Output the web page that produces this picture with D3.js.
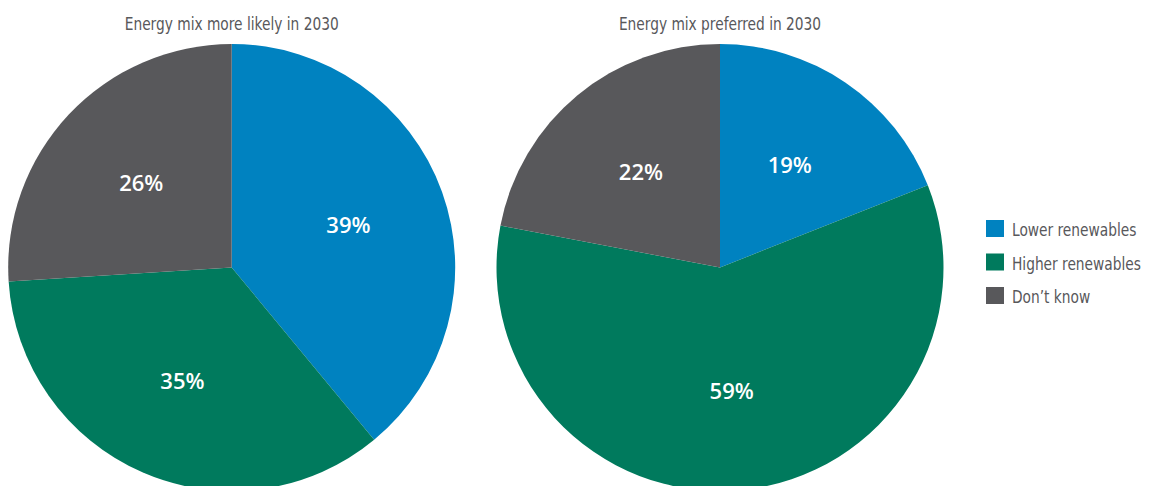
<!DOCTYPE html>
<html><head><meta charset="utf-8">
<script src="https://cdn.jsdelivr.net/npm/d3@7"></script>
<style>body{margin:0;background:#fff;}svg{display:block;}</style>
</head><body>
<svg id="c" width="1150" height="486"></svg>
<script>
const categories = ["Lower renewables", "Higher renewables", "Don\u2019t know"];
const titles = ["Energy mix more likely in 2030", "Energy mix preferred in 2030"];
const likelyValues = [39, 35, 26];
const preferredValues = [19, 59, 22];
const colors = ["#0082C0", "#007A5D", "#58585B"];

const svg = d3.select("#c");
const R = 223.5;
const centers = [[231.7, 267.5], [720, 267.5]];
const datasets = [likelyValues, preferredValues];
const pie = d3.pie().sort(null).value(d => d);
const arc = d3.arc().innerRadius(0).outerRadius(R);
const labelArc = d3.arc().innerRadius(R * 0.555).outerRadius(R * 0.555);
const color = d3.scaleOrdinal().domain(categories).range(colors);
const condFont = "'DejaVu Sans Condensed', 'Liberation Sans Narrow', sans-serif";

datasets.forEach((vals, i) => {
  const g = svg.append("g").attr("transform", `translate(${centers[i][0]},${centers[i][1]})`);
  const arcs = pie(vals);
  g.selectAll("path").data(arcs).enter().append("path")
    .attr("d", arc).attr("fill", (d, j) => color(categories[j]));
  g.selectAll("text.lbl").data(arcs).enter().append("text")
    .attr("class", "lbl")
    .attr("transform", d => `translate(${labelArc.centroid(d)})`)
    .attr("text-anchor", "middle").attr("dy", "0.36em")
    .attr("fill", "#fff")
    .style("font-family", "'Open Sans', sans-serif").style("font-weight", 600).style("font-size", "22px")
    .text(d => d.value + "%");
  svg.append("text")
    .attr("transform", `translate(${centers[i][0]},29.5) scale(0.9,1)`)
    .attr("text-anchor", "middle")
    .attr("fill", "#58585B")
    .style("font-family", condFont).style("font-size", "17px")
    .text(titles[i]);
});

const leg = svg.append("g").attr("transform", "translate(986,220)");
categories.forEach((c, j) => {
  const row = leg.append("g").attr("transform", `translate(0,${j * 33.5})`);
  row.append("rect").attr("width", 18).attr("height", 17).attr("fill", color(c));
  row.append("text").attr("transform", "translate(26,16) scale(0.9,1)").attr("fill", "#58585B")
    .style("font-family", condFont).style("font-size", "17px")
    .text(c);
});
</script>
</body></html>
